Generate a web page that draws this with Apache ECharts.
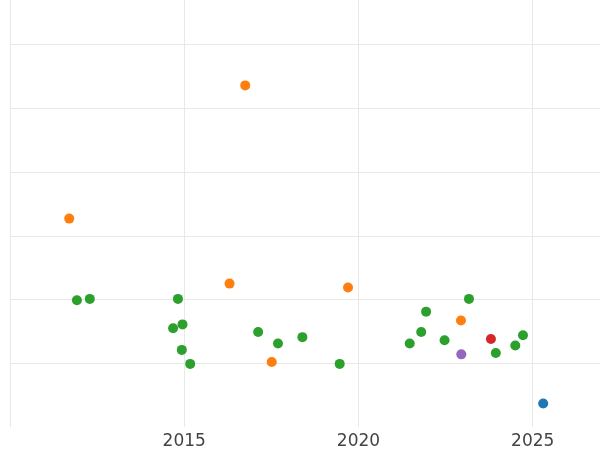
<!DOCTYPE html>
<html>
<head>
<meta charset="utf-8">
<script src="https://cdn.jsdelivr.net/npm/echarts@6/dist/echarts.min.js"></script>
<style>
  html, body { margin: 0; padding: 0; background: #fff; }
  #chart { width: 600px; height: 450px; }
</style>
</head>
<body>
<div id="chart"></div>
<script>
// data (x = year, y = value)
var blueYears = [2025.30]
var blueValues = [0.37]

var orangeYears = [2011.70, 2016.30, 2016.75, 2017.51, 2019.70, 2022.94]
var orangeValues = [3.27, 2.25, 5.36, 1.02, 2.19, 1.67]

var greenYears = [2011.92, 2012.29, 2014.68, 2014.82, 2014.93, 2014.95, 2015.17,
  2017.12, 2017.69, 2018.39, 2019.46, 2021.47, 2021.80, 2021.94, 2022.47,
  2023.17, 2023.94, 2024.50, 2024.72]
var greenValues = [1.99, 2.01, 1.55, 2.01, 1.21, 1.61, 0.99,
  1.49, 1.31, 1.41, 0.99, 1.31, 1.49, 1.81, 1.36,
  2.01, 1.16, 1.28, 1.44]

var redYears = [2023.80]
var redValues = [1.38]

var purpleYears = [2022.95]
var purpleValues = [1.14]

var xTicks = [2010, 2015, 2020, 2025]

function pairs(xs, ys) {
  return xs.map(function (x, i) { return [x, ys[i]] })
}

function dots(name, color, xs, ys) {
  return {
    name: name,
    type: 'scatter',
    symbolSize: 10,
    itemStyle: { color: color, opacity: 1 },
    data: pairs(xs, ys)
  }
}

var myChart = echarts.init(document.getElementById('chart'))
myChart.setOption({
  animation: false,
  grid: { left: 10, right: 0, top: 0, bottom: 23 },
  xAxis: {
    type: 'value',
    min: xTicks[0],
    max: 2026.93,
    interval: 5,
    axisLine: { show: false },
    axisTick: { show: false },
    axisLabel: {
      showMinLabel: false,
      showMaxLabel: false,
      color: '#444',
      fontSize: 17,
      fontFamily: 'DejaVu Sans',
      margin: 6,
      formatter: function (v) { return String(v) }
    },
    splitLine: { show: true, lineStyle: { color: '#e8e8e8', width: 1 } }
  },
  yAxis: {
    type: 'value',
    min: 0,
    max: 6.7,
    interval: 1,
    axisLine: { show: false },
    axisTick: { show: false },
    axisLabel: { show: false },
    splitLine: {
      show: true,
      showMinLine: false,
      showMaxLine: false,
      lineStyle: { color: '#e8e8e8', width: 1 }
    }
  },
  series: [
    dots('blue', '#1f77b4', blueYears, blueValues),
    dots('orange', '#ff7f0e', orangeYears, orangeValues),
    dots('green', '#2ca02c', greenYears, greenValues),
    dots('red', '#d62728', redYears, redValues),
    dots('purple', '#9467bd', purpleYears, purpleValues)
  ]
})
</script>
</body>
</html>
